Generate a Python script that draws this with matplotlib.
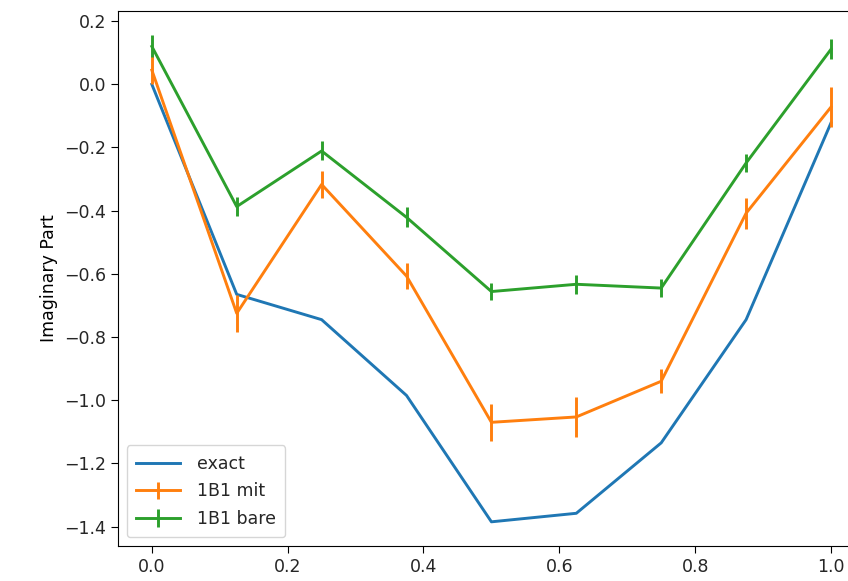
import numpy as np
import matplotlib
matplotlib.use("Agg")
import matplotlib.pyplot as plt

# time points
t = [0.0, 0.125, 0.25, 0.375, 0.5, 0.625, 0.75, 0.875, 1.0]

exact = [0.0, -0.665, -0.745, -0.985, -1.385, -1.358, -1.135, -0.745, -0.122]

mit = [0.045, -0.725, -0.317, -0.607, -1.07, -1.053, -0.94, -0.408, -0.072]
mit_err = [0.045, 0.058, 0.042, 0.04, 0.058, 0.063, 0.038, 0.049, 0.062]

bare = [0.12, -0.387, -0.211, -0.421, -0.656, -0.633, -0.645, -0.249, 0.111]
bare_err = [0.035, 0.03, 0.03, 0.032, 0.028, 0.03, 0.028, 0.03, 0.032]

plt.rcParams["font.size"] = 12.5
plt.rcParams["lines.linewidth"] = 2.1
plt.rcParams["xtick.major.size"] = 5
plt.rcParams["ytick.major.size"] = 5
plt.rcParams["text.color"] = "#262626"
plt.rcParams["xtick.labelcolor"] = "#262626"
plt.rcParams["ytick.labelcolor"] = "#262626"

fig = plt.figure(figsize=(8.48, 5.81), dpi=100)
ax = fig.add_axes([0.139, 0.060, 0.881, 0.921])

ax.plot(t, exact, label="exact")
ax.errorbar(t, mit, yerr=mit_err, label="1B1 mit")
ax.errorbar(t, bare, yerr=bare_err, label="1B1 bare")

ax.set_xlim(-0.05, 1.05)
ax.set_yticks(np.arange(-1.4, 0.21, 0.2))
ax.set_ylabel("Imaginary Part")
ax.spines["right"].set_visible(False)
ax.legend(loc="lower left", handlelength=2.5, handletextpad=1.0,
          borderpad=0.55, labelspacing=0.55)

fig.savefig("out.png", dpi=100)
